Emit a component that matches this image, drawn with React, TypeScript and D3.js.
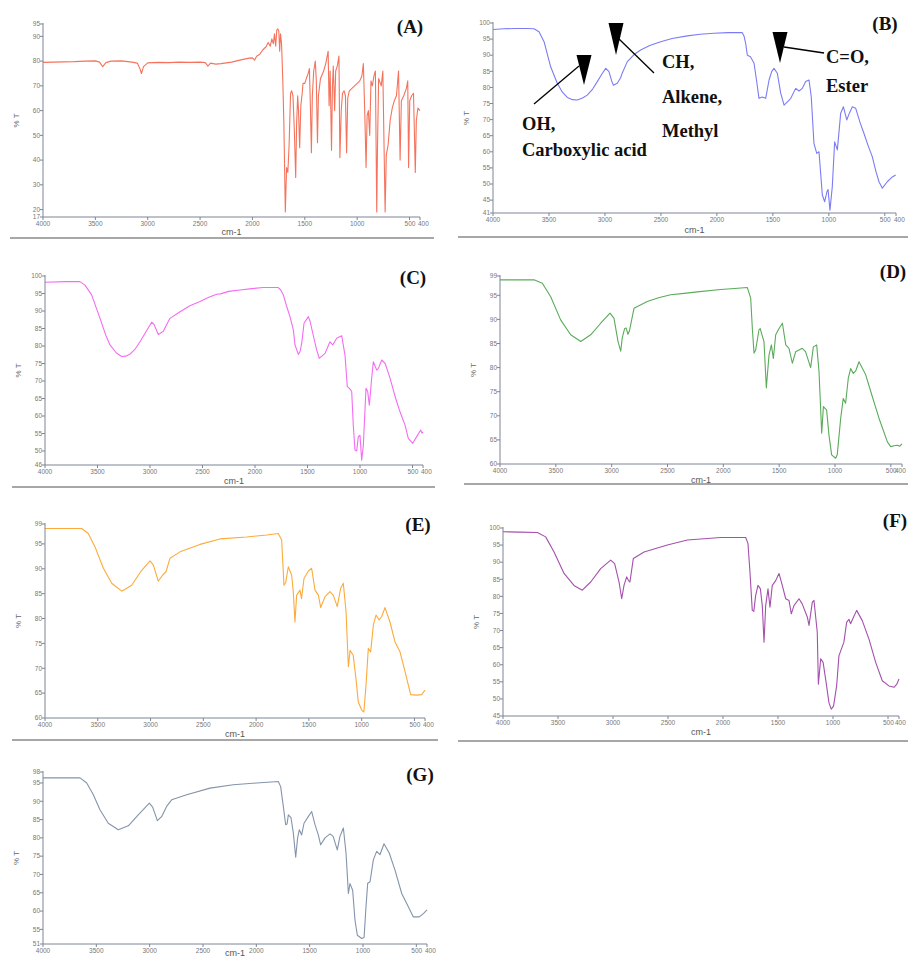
import React from 'react';
import * as d3 from 'd3';

// wavenumber (cm-1) ticks shared by every panel
const xTicks = [4000, 3500, 3000, 2500, 2000, 1500, 1000, 500, 400];

// [wavenumber, %T]
const specA: [number, number][] = [[4000,79.5],[3900,79.6],[3800,79.7],[3700,79.8],[3600,80],[3500,80.1],[3460,79.6],[3430,77.8],[3400,79.4],[3350,80],[3250,80.1],[3150,79.6],[3100,79.2],[3075,77],[3060,75],[3040,77.8],[3000,79.3],[2900,79.5],[2800,79.4],[2700,79.6],[2600,79.5],[2500,79.6],[2450,79.4],[2425,78],[2400,79.2],[2350,78.8],[2300,79],[2200,79.6],[2100,80.6],[2030,81.2],[2000,81.3],[1980,80.4],[1960,82],[1930,82.8],[1900,84.6],[1870,85.8],[1850,87.5],[1830,86],[1815,89],[1800,87],[1790,91],[1778,86],[1768,92.5],[1757,93],[1748,92],[1740,84],[1732,91],[1722,87],[1710,72],[1700,55],[1686,19],[1674,37],[1662,35],[1650,46],[1636,67],[1625,68],[1613,66],[1600,52],[1587,33],[1578,55],[1568,66],[1560,60],[1549,45],[1538,62],[1525,67],[1517,71],[1500,71],[1485,73],[1468,75],[1456,77],[1447,62],[1437,43],[1428,66],[1415,76],[1400,80],[1390,72],[1379,47],[1370,66],[1350,73],[1320,76],[1300,79],[1277,84],[1268,62],[1258,76],[1245,44],[1236,70],[1228,78],[1215,60],[1205,76],[1190,78],[1174,82],[1165,41],[1152,60],[1140,67],[1125,68],[1112,66],[1101,43],[1090,65],[1075,68],[1050,69],[1025,70],[1000,71],[975,72],[955,74],[941,79],[928,60],[915,37],[905,58],[893,60],[880,50],[868,72],[855,70],[840,74],[826,76],[813,19],[806,45],[795,73],[770,70],[755,76],[733,19],[722,42],[705,46],[685,56],[665,61],[645,64],[625,66],[605,76],[590,40],[578,64],[555,66],[530,69],[517,72],[509,37],[498,64],[480,66],[462,67],[445,35],[435,56],[420,61],[400,60]];
const specB: [number, number][] = [[4000,98],[3900,98.2],[3800,98.3],[3700,98.3],[3634,98.2],[3589,97.3],[3544,94.2],[3485,86.4],[3426,81.3],[3380,78.5],[3336,76.9],[3290,76.2],[3247,76.1],[3200,76.7],[3158,77.6],[3110,79.5],[3068,81.8],[3030,84],[2993,85.9],[2964,84.9],[2940,82],[2925,80.7],[2890,81.3],[2860,83],[2845,84.5],[2800,88],[2740,90.2],[2681,91.6],[2600,93],[2502,94.2],[2400,95.2],[2264,96],[2150,96.5],[2026,96.8],[1900,97],[1773,97],[1758,96],[1743,93.7],[1728,90],[1700,89.5],[1668,87.5],[1645,82],[1624,76.6],[1595,77],[1564,76.6],[1534,82.3],[1510,85],[1490,85.9],[1460,84.4],[1430,78.2],[1400,74.5],[1370,75.5],[1340,76.6],[1296,79.7],[1266,78.9],[1237,79.7],[1207,81.8],[1177,82.3],[1157,77.1],[1133,62.6],[1108,59.5],[1088,60],[1058,46.6],[1037,44.5],[1017,47.6],[1007,48.3],[990,41.9],[969,49.2],[948,63.1],[924,60.6],[894,72],[870,74],[840,69.9],[820,71.7],[790,74],[760,73.5],[720,69],[686,65.7],[650,62],[612,58.5],[580,54],[552,50.7],[522,48.7],[478,50.7],[440,52],[403,52.8]];
const specC: [number, number][] = [[4000,98.2],[3800,98.4],[3667,98.4],[3619,97.4],[3556,94.6],[3476,87.9],[3420,83],[3381,80.3],[3320,78],[3270,77],[3230,77.1],[3190,77.7],[3140,79.2],[3095,81.2],[3040,84],[2984,86.8],[2962,86.2],[2921,83.3],[2873,84.2],[2810,87.9],[2714,89.8],[2620,91.5],[2524,92.7],[2440,93.9],[2365,94.8],[2330,94.9],[2250,95.6],[2143,96],[2030,96.4],[1921,96.7],[1778,96.7],[1755,96],[1730,94.6],[1700,91.5],[1667,88.4],[1635,84.6],[1619,80.3],[1587,77.6],[1570,78.5],[1555,80.8],[1533,86.5],[1492,88.4],[1475,87],[1460,85],[1413,78.9],[1388,76.5],[1360,77.2],[1333,77.9],[1286,81.2],[1260,80.3],[1222,82.2],[1174,82.9],[1143,77.4],[1121,68.4],[1100,67.9],[1079,67],[1064,57.4],[1048,50.3],[1032,50],[1016,54.1],[1000,54.5],[984,47.4],[968,51.7],[943,67.9],[927,67],[911,63.1],[889,70.8],[873,75.5],[841,73.1],[825,73.6],[793,76],[760,75],[714,70.8],[660,65],[619,61.2],[571,57.4],[540,53.6],[498,52.2],[460,54.1],[422,56],[410,55.1],[400,55.5]];
const specD: [number, number][] = [[4000,98.2],[3850,98.2],[3696,98.2],[3621,97.5],[3546,94.7],[3457,89.9],[3367,86.8],[3277,85.4],[3188,86.8],[3098,89.2],[3015,91.3],[2979,90.2],[2943,85.4],[2919,83.4],[2905,86.2],[2884,88.1],[2870,88.2],[2854,86.9],[2840,87.7],[2800,92.3],[2681,93.7],[2580,94.5],[2472,95.1],[2350,95.4],[2233,95.7],[2024,96.2],[1900,96.4],[1785,96.6],[1755,94.4],[1740,88],[1725,83],[1710,83.7],[1681,87.8],[1670,88.1],[1636,85.4],[1615,75.8],[1591,82.6],[1570,84.7],[1552,81.9],[1531,86.8],[1501,88.1],[1471,89.2],[1441,84.7],[1412,84],[1382,80.9],[1352,83.3],[1293,84],[1264,83.3],[1218,80],[1194,84.3],[1164,84.7],[1143,79.1],[1119,66.4],[1104,71.9],[1075,71.2],[1054,66],[1030,61.9],[994,61.2],[980,61.9],[949,69.5],[926,73.6],[905,72.6],[881,77.8],[860,79.8],[836,78.8],[815,79.3],[785,81.2],[725,78.5],[666,74],[606,69.5],[531,64.6],[501,63.6],[470,63.8],[442,63.9],[420,63.7],[400,64.2]];
const specE: [number, number][] = [[4000,98.1],[3800,98.1],[3652,98.1],[3590,97.1],[3526,94.4],[3447,90.1],[3368,87.1],[3273,85.5],[3179,86.7],[3084,89.7],[3005,91.6],[2974,90.8],[2927,87.5],[2890,88.6],[2854,89.4],[2816,92.1],[2721,93.4],[2532,94.9],[2342,96],[2089,96.4],[1900,96.8],[1790,97.1],[1758,95.8],[1736,86.7],[1720,87.2],[1695,90.4],[1663,88.7],[1648,85.4],[1632,79.3],[1616,84.7],[1584,85.7],[1570,84],[1546,88.1],[1506,89.5],[1474,90.1],[1442,85.7],[1410,84.7],[1388,82.2],[1347,84.4],[1300,85.4],[1270,84.7],[1231,82.4],[1199,86.1],[1174,87.1],[1148,81.4],[1126,70.3],[1110,73.6],[1080,72.6],[1054,67.9],[1032,63.2],[1000,61.6],[979,61.2],[959,66.6],[937,74],[915,73.3],[889,78.7],[864,80.7],[835,79.7],[810,80.4],[779,82.2],[732,79.3],[684,75.3],[637,73.3],[589,69.3],[536,64.7],[479,64.6],[432,64.7],[400,65.6]];
const specF: [number, number][] = [[4000,98.9],[3850,98.8],[3688,98.7],[3612,97.4],[3536,93],[3445,86.7],[3355,83.2],[3279,81.8],[3203,84.2],[3112,88.1],[3021,90.6],[2985,89.6],[2945,84.2],[2921,79.3],[2900,83.2],[2876,85.7],[2860,84.7],[2846,84.2],[2815,91.1],[2718,93],[2506,95],[2324,96.5],[2021,97.2],[1794,97.2],[1773,95.5],[1755,87.2],[1734,75.9],[1720,75.6],[1703,80.3],[1682,83.2],[1660,82.2],[1643,77.3],[1627,66.6],[1612,77.3],[1591,82.2],[1573,76.8],[1552,83.2],[1521,84.6],[1491,86.7],[1461,83.2],[1430,79.3],[1400,78.8],[1379,74.9],[1355,77.3],[1309,79.3],[1280,77.8],[1233,73.9],[1218,71.5],[1188,78.3],[1173,78.8],[1143,69.5],[1133,54.3],[1112,61.7],[1090,60.7],[1067,55.8],[1037,48.9],[1016,47],[995,47.9],[967,53.8],[946,62.6],[925,64.5],[901,66.6],[876,72.4],[855,73.3],[840,72],[822,73.3],[785,75.9],[734,72.9],[673,67.5],[612,60.7],[552,55.3],[491,53.8],[446,53.4],[420,54.3],[400,55.8]];
const specG: [number, number][] = [[4000,96.4],[3800,96.4],[3653,96.4],[3590,95],[3528,91.8],[3466,87.7],[3388,84],[3294,82.2],[3200,83.3],[3107,86.3],[3003,89.5],[2972,88.4],[2928,84.7],[2888,85.8],[2841,88.6],[2794,90.4],[2653,91.8],[2434,93.6],[2216,94.5],[1997,95],[1794,95.4],[1772,94],[1747,88.6],[1725,83.6],[1712,83.8],[1700,86.3],[1675,85.5],[1653,81.3],[1631,74.7],[1613,80],[1597,82.2],[1575,80.8],[1553,84],[1513,85.8],[1481,87.2],[1450,83.6],[1419,80.8],[1397,78.1],[1356,80],[1309,81.1],[1280,80.4],[1241,76.7],[1216,80.4],[1184,82.7],[1159,75.8],[1137,64.8],[1122,67.5],[1097,65.7],[1075,57.5],[1053,53.4],[1012,52.5],[990,52.8],[972,61.2],[956,67.6],[934,68],[903,74],[872,76.3],[841,75.4],[803,78.4],[753,75.8],[700,71.2],[637,64.8],[575,61.2],[528,58.4],[472,58.4],[434,59.3],[400,60.3]];

const ticksA = [17, 20, 30, 40, 50, 60, 70, 80, 90, 95];
const ticksB = [41, 45, 50, 55, 60, 65, 70, 75, 80, 85, 90, 95, 100];
const ticksC = [46, 50, 55, 60, 65, 70, 75, 80, 85, 90, 95, 100];
const ticksD = [60, 65, 70, 75, 80, 85, 90, 95, 99];
const ticksE = [60, 65, 70, 75, 80, 85, 90, 95, 99];
const ticksF = [45, 50, 55, 60, 65, 70, 75, 80, 85, 90, 95, 100];
const ticksG = [51, 55, 60, 65, 70, 75, 80, 85, 90, 95, 98];

const panels = [
  { id: 'A', data: specA, ticks: ticksA, color: '#f5735c', box: [43, 24, 420, 217], label: [410, 33], sep: [10, 434, 238], xl: 235 },
  { id: 'B', data: specB, ticks: ticksB, color: '#7b7cf4', box: [493, 23, 896, 213], label: [885, 30], sep: [458, 908, 237], xl: 233 },
  { id: 'C', data: specC, ticks: ticksC, color: '#f46cf2', box: [45, 276, 423, 465], label: [413, 284], sep: [12, 435, 487], xl: 484 },
  { id: 'D', data: specD, ticks: ticksD, color: '#5aab5a', box: [500, 276, 902, 464], label: [893, 278], sep: [464, 908, 484], xl: 483 },
  { id: 'E', data: specE, ticks: ticksE, color: '#fbab3c', box: [45, 524, 425, 718], label: [418, 531], sep: [12, 438, 740], xl: 737 },
  { id: 'F', data: specF, ticks: ticksF, color: '#a450ac', box: [503, 528, 899, 716], label: [895, 527], sep: [458, 908, 741], xl: 735 },
  { id: 'G', data: specG, ticks: ticksG, color: '#8494aa', box: [43, 772, 427, 944], label: [420, 781], sep: null, xl: 956 },
];

const axisColor = '#7d8596';
const tickFont = '"Liberation Sans", Arial, sans-serif';

function Panel({ p }: { p: any }) {
  const [l, t, r, b] = p.box;
  const x = d3.scaleLinear().domain([4000, 400]).range([l, r]);
  const y = d3.scaleLinear().domain([p.ticks[0], p.ticks[p.ticks.length - 1]]).range([b, t]);
  const line = d3.line<[number, number]>().x(d => x(d[0])).y(d => y(d[1]));
  const midY = (t + b) / 2;
  // "500" and "400" sit side by side at the right end, as in the original
  const xLabelX = (v: number) => (v === 500 ? x(v) - 5 : v === 400 ? Math.min(x(v) - 2, 895) : x(v));
  return (
    <g>
      <path d={line(p.data) || ''} fill="none" stroke={p.color} strokeWidth={1.1} strokeLinejoin="round" />
      <line x1={l} x2={l} y1={t - 1} y2={b} stroke={axisColor} strokeWidth={1} />
      <line x1={l} x2={r} y1={b} y2={b} stroke={axisColor} strokeWidth={1} />
      {p.ticks.map((v: number) => (
        <g key={v}>
          <line x1={l - 3} x2={l} y1={y(v)} y2={y(v)} stroke={axisColor} />
          <text x={l - 3} y={y(v)} dy="0.35em" textAnchor="end" fontSize={6.5} fill="#777" fontFamily={tickFont}>{v}</text>
        </g>
      ))}
      {xTicks.map(v => (
        <g key={v}>
          <line x1={x(v)} x2={x(v)} y1={b} y2={b + 3} stroke={axisColor} />
          <text x={xLabelX(v)} y={b + 9} textAnchor={v >= 1000 ? 'middle' : 'start'} fontSize={6.5} fill="#777" fontFamily={tickFont}>{v}</text>
        </g>
      ))}
      <text transform={`translate(${l - 24},${midY}) rotate(-90)`} textAnchor="middle" fontSize={8} fill="#666" fontFamily={tickFont}>% T</text>
      <text x={(l + r) / 2} y={p.xl} textAnchor="middle" fontSize={9} fill="#555" fontFamily={tickFont}>cm-1</text>
      <text x={p.label[0]} y={p.label[1]} textAnchor="middle" fontSize={19} fontWeight="bold" fontFamily='"Liberation Serif", "Times New Roman", serif' fill="#111">({p.id})</text>
      {p.sep && <line x1={p.sep[0]} x2={p.sep[1]} y1={p.sep[2]} y2={p.sep[2]} stroke="#8a8a8a" strokeWidth={1.5} />}
    </g>
  );
}

const serif = '"Liberation Serif", "Times New Roman", serif';

function Annotations() {
  const tri = (cx: number, top: number, tip: number) =>
    `M${cx - 7.5},${top}L${cx + 7.5},${top}L${cx},${tip}Z`;
  return (
    <g>
      <path d={tri(584, 55, 85)} fill="#000" />
      <path d={tri(616, 23, 55)} fill="#000" />
      <path d={tri(780, 32, 63)} fill="#000" />
      <line x1={534} y1={104} x2={579} y2={66} stroke="#000" strokeWidth={1.3} />
      <line x1={618} y1={38} x2={654} y2={73} stroke="#000" strokeWidth={1.3} />
      <line x1={784} y1={47} x2={824} y2={53} stroke="#000" strokeWidth={1.3} />
      <g fontFamily={serif} fontWeight="bold" fontSize={18.5} fill="#111">
        <text x={522} y={130}>OH,</text>
        <text x={522} y={156}>Carboxylic acid</text>
        <text x={662} y={68}>CH,</text>
        <text x={662} y={103}>Alkene,</text>
        <text x={662} y={137}>Methyl</text>
        <text x={826} y={63}>C=O,</text>
        <text x={826} y={92}>Ester</text>
      </g>
    </g>
  );
}

export default function App() {
  return (
    <svg width={908} height={958} style={{ position: 'absolute', left: 0, top: 0, background: '#fff' }}>
      <rect width={908} height={958} fill="#fff" />
      {panels.map(p => <Panel key={p.id} p={p} />)}
      <Annotations />
    </svg>
  );
}
